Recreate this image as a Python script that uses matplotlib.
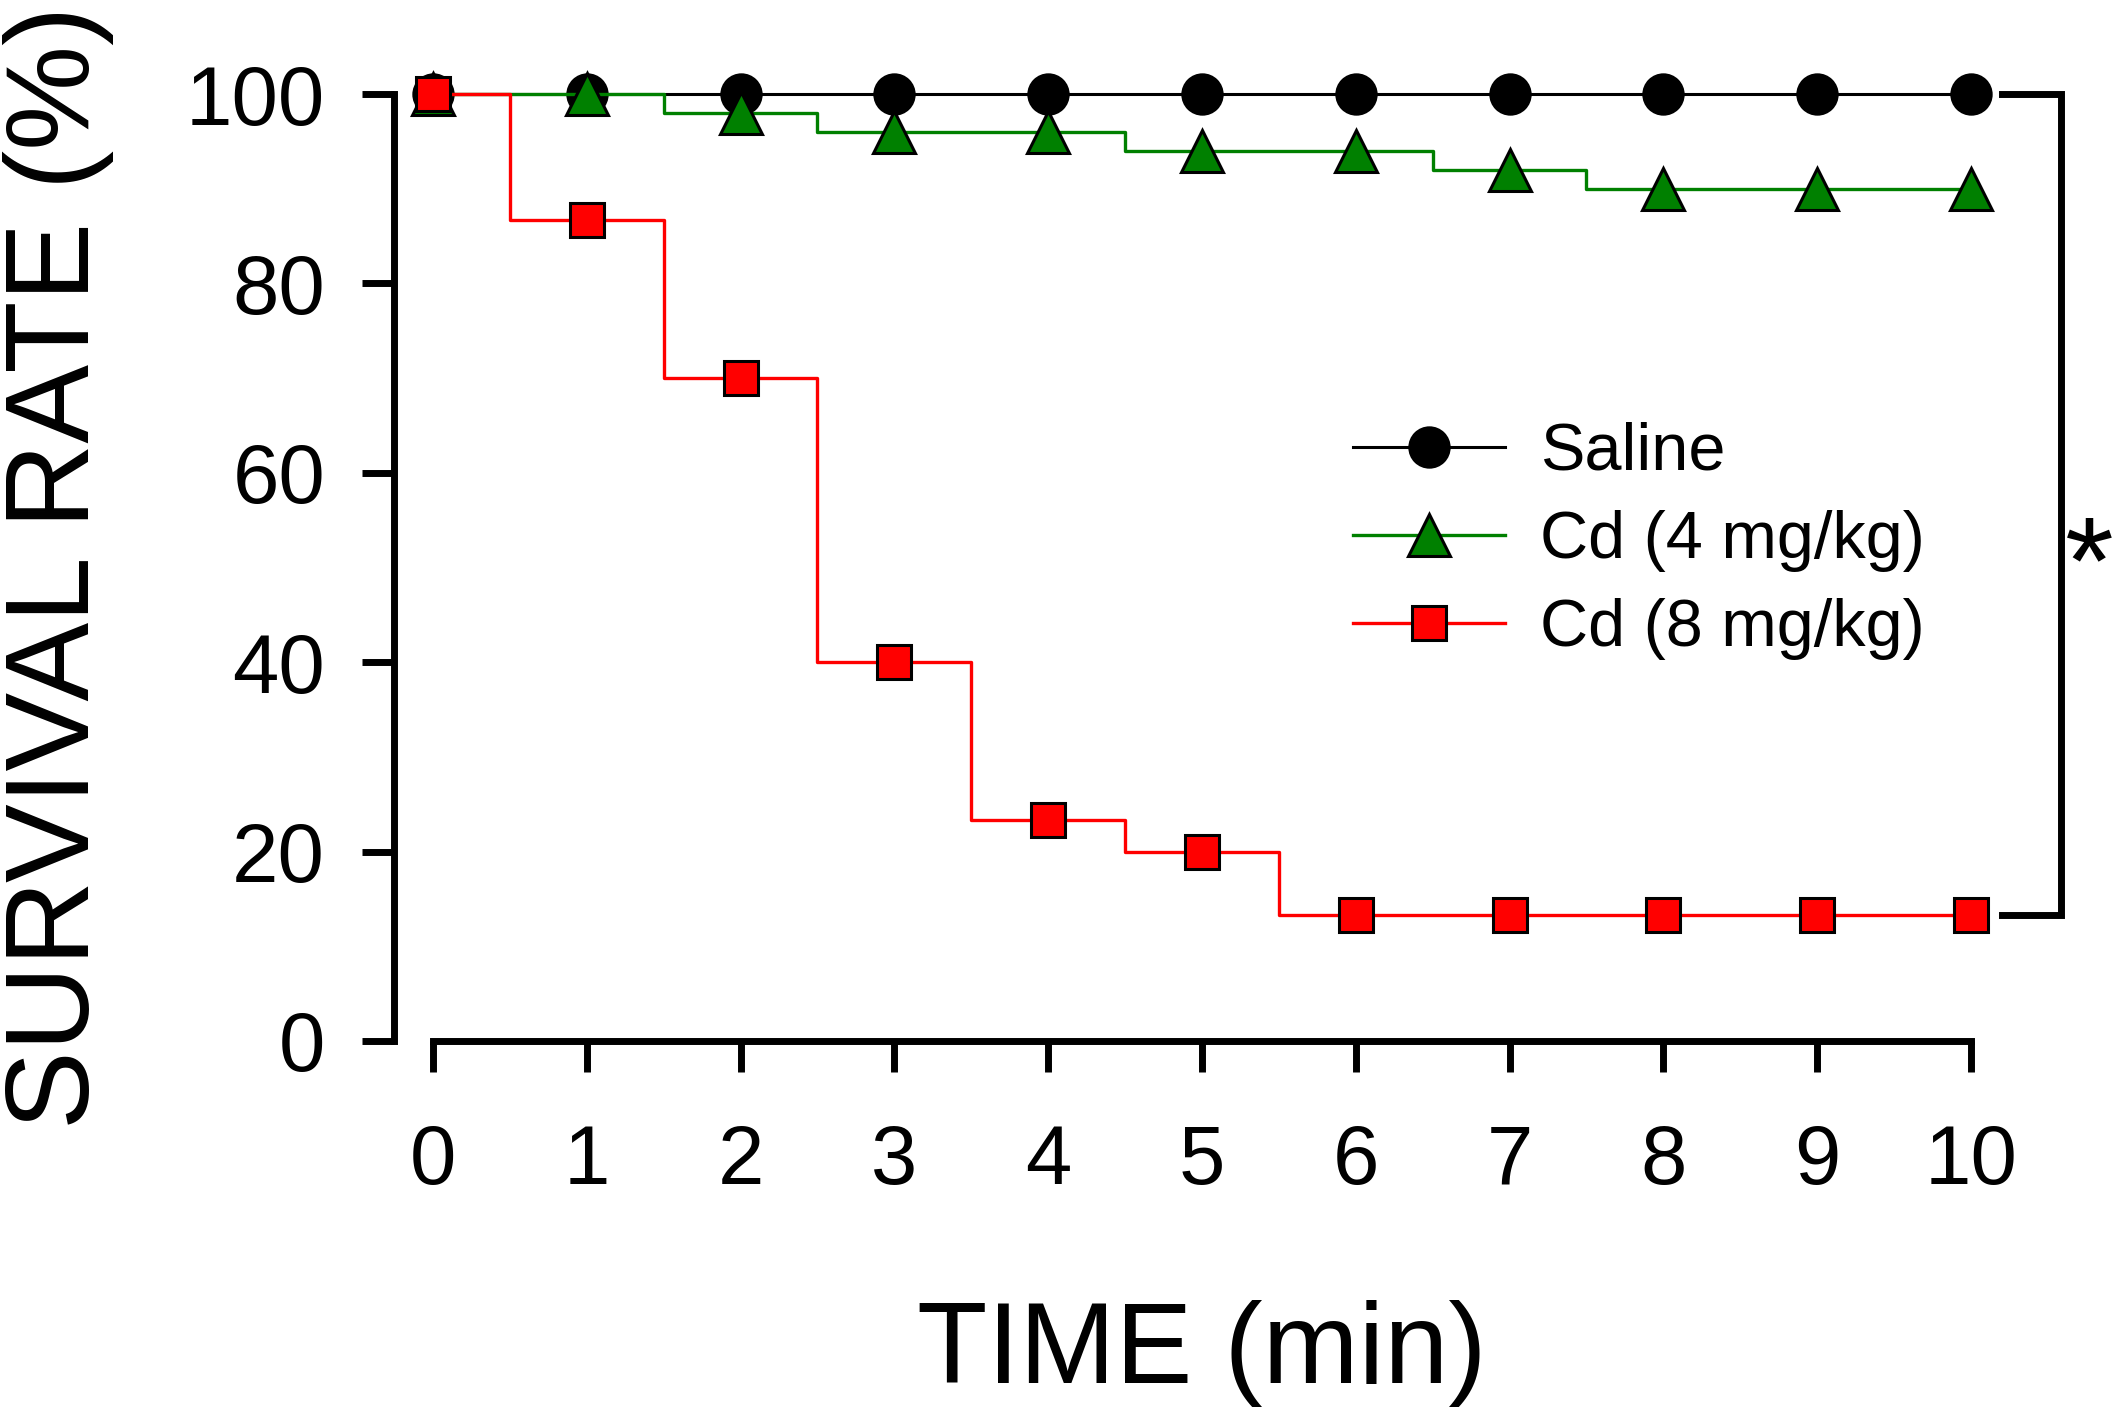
import matplotlib
matplotlib.use("Agg")
import matplotlib.pyplot as plt

plt.rcParams["font.family"] = ["Liberation Sans", "DejaVu Sans"]

# survival data (% alive at each minute)
time_min = [0, 1, 2, 3, 4, 5, 6, 7, 8, 9, 10]
saline = [100, 100, 100, 100, 100, 100, 100, 100, 100, 100, 100]
cd4 = [100, 100, 98, 96, 96, 94, 94, 92, 90, 90, 90]
cd8 = [100, 86.7, 70, 40, 23.3, 20, 13.3, 13.3, 13.3, 13.3, 13.3]

labels = ["Saline", "Cd (4 mg/kg)", "Cd (8 mg/kg)"]
x_ticks = [0, 1, 2, 3, 4, 5, 6, 7, 8, 9, 10]
y_ticks = [0, 20, 40, 60, 80, 100]

fig = plt.figure(figsize=(21.14, 14.14), dpi=100)
ax = fig.add_axes([0.1866, 0.2638, 0.7639, 0.6697])

ax.plot(time_min, saline, drawstyle="steps-mid", color="black", lw=2.2,
        marker="o", ms=29, mfc="black", mec="black", mew=1.5,
        label=labels[0], clip_on=False, zorder=3)
ax.plot(time_min, cd4, drawstyle="steps-mid", color="#008000", lw=2.4,
        marker="^", ms=30, mfc="#008000", mec="black", mew=2.2,
        label=labels[1], clip_on=False, zorder=4)
ax.plot(time_min, cd8, drawstyle="steps-mid", color="#ff0000", lw=2.4,
        marker="s", ms=25, mfc="#ff0000", mec="black", mew=2.2,
        label=labels[2], clip_on=False, zorder=5)

ax.set_xlim(-0.25, 10.25)
ax.set_ylim(0, 100)
ax.set_xticks(x_ticks)
ax.set_yticks(y_ticks)

for side in ["top", "right"]:
    ax.spines[side].set_visible(False)
ax.spines["left"].set_bounds(0, 100)
ax.spines["bottom"].set_bounds(0, 10)
for side in ["left", "bottom"]:
    ax.spines[side].set_linewidth(5)

ax.tick_params(axis="y", direction="out", length=23, width=5, pad=27, labelsize=60)
ax.tick_params(axis="x", direction="out", length=22, width=5, pad=37, labelsize=60)

ax.set_xlabel("TIME (min)", fontsize=83, va="baseline")
ax.xaxis.set_label_coords(0.5, -0.361)
ax.set_ylabel("SURVIVAL RATE (%)", fontsize=85, va="baseline")
ax.yaxis.set_label_coords(-0.1894, 0.5)

leg = ax.legend(loc="center left", bbox_to_anchor=(0.640, 0.6174),
                bbox_transform=fig.transFigure, frameon=False, fontsize=48,
                numpoints=1, handlelength=2.28, handletextpad=0.52,
                labelspacing=0.39, borderpad=0, borderaxespad=0)

# significance bracket between saline and Cd 8 mg/kg
bx_in, bx_out = 10.2, 10.585
ax.plot([bx_in, bx_out, bx_out, bx_in], [saline[-1], saline[-1], cd8[-1], cd8[-1]],
        color="black", lw=5, clip_on=False, solid_joinstyle="miter")
ax.text(10.77, 46.2, "*", fontsize=90, ha="center", va="baseline")

fig.savefig("out.png", dpi=100)
